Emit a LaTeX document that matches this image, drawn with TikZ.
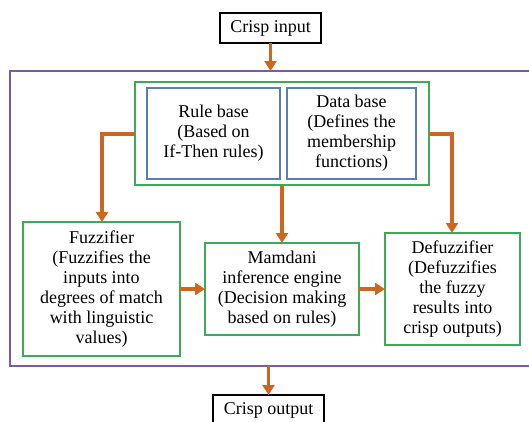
\documentclass[tikz,border=0pt]{standalone}
\usepackage{fontspec}
\setmainfont{Liberation Serif}
\usetikzlibrary{arrows.meta}
\definecolor{arr}{RGB}{204,102,32}
\definecolor{grn}{RGB}{60,170,90}
\definecolor{blu}{RGB}{90,125,180}
\definecolor{pur}{RGB}{125,90,165}
\tikzset{
  txt/.style={align=center,font=\fontsize{18}{20}\selectfont,inner sep=0pt},
  gbox/.style={draw=grn,line width=2pt},
  bbox/.style={draw=blu,line width=2pt},
  kbox/.style={draw=black,line width=2pt},
  flow/.style={draw=arr,line width=3.2pt,-{Triangle[length=10pt,width=12pt]}},
}
\begin{document}
\begin{tikzpicture}[x=1pt,y=-1pt]
\useasboundingbox (0,0) rectangle (529,421);
\begin{scope}
\clip (0,0) rectangle (529,421);
% purple frame
\draw[draw=pur,line width=2pt] (10,71) rectangle (545,366);
% crisp input / output
\draw[kbox,fill=white] (220,13) rectangle (321,43);
\node[txt] (in) at (270.5,28) {Crisp input};
\coordinate (inb) at (270.5,43);
\coordinate (ptop) at (270.5,71);
\draw[kbox,fill=white] (213,395) rectangle (324,430);
\node[txt] (out) at (268.5,410) {Crisp output};
\coordinate (outt) at (268.5,395);
\coordinate (pbot) at (268.5,366);
% knowledge base
\draw[gbox] (135,82) rectangle (429,185);
\coordinate (kbl) at (135,134);
\coordinate (kbr) at (429,134);
\coordinate (kbb) at (282,185);
\draw[bbox] (147,88) rectangle (280,179);
\node[txt] (rule) at (213.5,133.5) {Rule base\\(Based on\\If-Then rules)};
\draw[bbox] (287,88) rectangle (416,179);
\node[txt] (data) at (351.5,133.5) {Data base\\(Defines the\\membership\\functions)};
% process boxes
\draw[gbox] (23,222) rectangle (180,356);
\node[txt] (fuzz) at (101.5,289) {Fuzzifier\\(Fuzzifies the\\inputs into\\degrees of match\\with linguistic\\values)};
\draw[gbox] (205,243) rectangle (359,335);
\node[txt] (mam) at (282,289) {Mamdani\\inference engine\\(Decision making\\based on rules)};
\draw[gbox] (385,233) rectangle (520,345);
\node[txt] (defz) at (452.5,289) {Defuzzifier\\(Defuzzifies\\the fuzzy\\results into\\crisp outputs)};
\coordinate (fuzzt) at (102,222);
\coordinate (fuzzr) at (180,289);
\coordinate (maml) at (205,289);
\coordinate (mamr) at (359,289);
\coordinate (mamt) at (282,243);
\coordinate (defl) at (385,289);
\coordinate (deft) at (452,233);
% connectors
\draw[flow] (inb) -- (ptop);
\draw[flow] (kbl) -| (fuzzt);
\draw[flow] (kbr) -| (deft);
\draw[flow] (kbb) -- (mamt);
\draw[flow] (fuzzr) -- (maml);
\draw[flow] (mamr) -- (defl);
\draw[flow] (pbot) -- (outt);
\end{scope}
\end{tikzpicture}
\end{document}
